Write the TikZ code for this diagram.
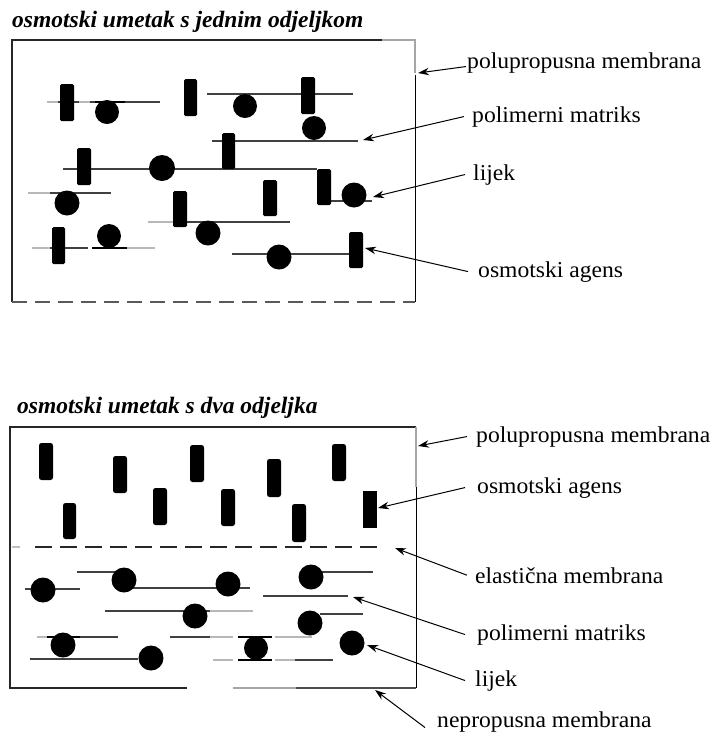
\documentclass[tikz,border=0pt]{standalone}
\usepackage{fontspec}
\setmainfont{Liberation Serif}
\newfontfamily\lblfont[FakeStretch=1.04]{Liberation Serif}
\newfontfamily\ttlfont{Liberation Serif}
\usetikzlibrary{arrows.meta}
\tikzset{
  mat/.style={black!75, line width=1.3pt},
  fade/.style={black!28, line width=1.6pt},
  drugcap/.style={black, line width=2.2pt},
  agent/.style={fill=black, rounded corners=1.5pt},
  drug/.style={fill=black},
  lbl/.style={font=\lblfont\fontsize{22.7}{24}\selectfont, anchor=base west, inner sep=0pt},
  ttl/.style={font=\ttlfont\bfseries\itshape\fontsize{23.5}{25}\selectfont, anchor=base west, inner sep=0pt},
  arr/.style={-{Stealth[length=11pt,width=7.5pt]}, line width=1pt},
  boxedge/.style={black!85, line width=1.3pt},
  gedge/.style={black!35, line width=1.6pt},
}
\begin{document}
\begin{tikzpicture}[x=1pt,y=-1pt]
\useasboundingbox (0,0) rectangle (711,732);

% ===== Top diagram =====
\node[ttl] (t1) at (12,27) {osmotski umetak s jednim odjeljkom};
\draw[boxedge] (12,302) -- (12,40) -- (382,40);
\draw[gedge] (382,40) -- (415,40) -- (415,73);
\draw[black, line width=1pt] (415,75) -- (415,302);
\draw[black!65, line width=1.6pt, dash pattern=on 15pt off 8pt] (12,302) -- (415,302);

% matrix lines
\draw[fade] (47,102) -- (58,102);
\draw[mat] (58,102) -- (160,102);
\draw[fade] (79,102) -- (90,102);
\draw[mat] (207,94) -- (353,94);
\draw[mat] (212,141) -- (358,141);
\draw[mat] (63,169) -- (317,169);
\draw[mat] (331,201) -- (372,201);
\draw[fade] (28,193) -- (50,193);
\draw[mat] (50,193) -- (111,193);
\draw[fade] (148,222) -- (173,222);
\draw[mat] (173,222) -- (290,222);
\draw[fade] (32,248) -- (50,248);
\draw[mat] (50,248) -- (88,248);
\draw[fade] (127,248) -- (155,248);
\draw[mat] (232,254) -- (350,254);

% osmotic agents
\foreach \a/\b/\c/\d in {60/84/74/121, 184/79/197/116, 301/77/315/114, 222/133/235/169,
  77/148/91/185, 317/169/331/205, 263/180/277/216, 173/191/187/227, 52/227/65/264, 349/232/363/268}
  \fill[agent] (\a,\b) rectangle (\c,\d);

% drug particles
\foreach \x/\y/\r in {107/112/12, 245/106/12, 314/128/12, 162/168/13, 354/195/12.5,
  67/203/12.5, 208/233/12.5, 109/236/12, 279/257/12.5}
  \fill[drug] (\x,\y) circle[radius=\r pt];
\draw[drugcap] (95,102) -- (125,102);
\draw[drugcap] (92,248) -- (127,248);

% labels
\node[lbl] (a1) at (467,68) {polupropusna membrana};
\node[lbl] (a2) at (472,122) {polimerni matriks};
\node[lbl] (a3) at (473,180) {lijek};
\node[lbl] (a4) at (478,277) {osmotski agens};
\coordinate (p1) at (418,73);
\coordinate (p2) at (363,140);
\coordinate (p3) at (373,197);
\coordinate (p4) at (365,248);
\draw[arr] ([xshift=-1pt,yshift=-4pt]a1.west) -- (p1);
\draw[arr] ([xshift=-8pt]a2.west) -- (p2);
\draw[arr] ([xshift=-8pt]a3.west) -- (p3);
\draw[arr] ([xshift=-10pt]a4.west) -- (p4);

% ===== Bottom diagram =====
\node[ttl] (t2) at (17,413) {osmotski umetak s dva odjeljka};
\draw[boxedge] (187,688) -- (10,688) -- (10,427) -- (416,427);
\draw[gedge] (416,427) -- (416,487);
\draw[black, line width=1pt] (416,487) -- (416,688);
\draw[gedge] (233,688) -- (296,688);
\draw[black!70, line width=1.3pt] (296,688) -- (416,688);

% osmotic agents
\foreach \a/\b/\c/\d in {39/443/53/480, 63/503/76/539, 113/456/127/493, 153/488/167/525,
  190/445/204/482, 221/489/235/526, 267/459/281/497, 292/504/306/542, 332/444/346/481}
  \fill[agent, rounded corners=2.5pt] (\a,\b) rectangle (\c,\d);
\fill[black] (363,491) rectangle (377,528);

% elastic membrane
\draw[black!25, line width=1.2pt] (12,547) -- (20,547);
\draw[black!85, line width=1.5pt, dash pattern=on 17pt off 8pt] (35,547) -- (378,547);

% matrix lines
\draw[mat] (25,589) -- (80,589);
\draw[mat] (77,572) -- (125,572);
\draw[mat] (130,588) -- (250,588);
\draw[mat] (320,572) -- (373,572);
\draw[mat] (263,596) -- (348,596);
\draw[mat] (105,611) -- (210,611);
\draw[fade] (210,611) -- (253,611);
\draw[mat] (320,614) -- (363,614);
\draw[fade] (37,637) -- (47,637);
\draw[mat] (47,637) -- (118,637);
\draw[mat] (30,659) -- (138,659);
\draw[mat] (170,637) -- (210,637);
\draw[fade] (210,637) -- (233,637);
\draw[fade] (275,637) -- (312,637);
\draw[fade] (213,660) -- (233,660);
\draw[fade] (275,660) -- (295,660);
\draw[mat] (295,660) -- (333,660);

% drug particles
\foreach \x/\y/\r in {43/590/12.5, 124/580/12.5, 228/584/12.5, 311/577/12.5, 195/616/12.5,
  310/623/12.5, 352/643/12.5, 63/645/12.5, 151/658/12.5, 256/648/12}
  \fill[drug] (\x,\y) circle[radius=\r pt];
\draw[drugcap] (47,637) -- (80,637);
\draw[drugcap] (238,637) -- (272,637);
\draw[drugcap] (238,660) -- (272,660);

% labels
\node[lbl] (b1) at (476,442) {polupropusna membrana};
\node[lbl] (b2) at (477,493) {osmotski agens};
\node[lbl] (b3) at (475,583) {elastična membrana};
\node[lbl] (b4) at (477,640) {polimerni matriks};
\node[lbl] (b5) at (475,686) {lijek};
\node[lbl] (b6) at (437,727) {nepropusna membrana};
\coordinate (q1) at (418,446);
\coordinate (q2) at (378,508);
\coordinate (q3) at (395,548);
\coordinate (q4) at (353,597);
\coordinate (q5) at (367,645);
\coordinate (q6) at (375,690);
\draw[arr] ([xshift=-9pt]b1.west) -- (q1);
\draw[arr] ([xshift=-12pt]b2.west) -- (q2);
\draw[arr] ([xshift=-8pt]b3.west) -- (q3);
\draw[arr] ([xshift=-12pt]b4.west) -- (q4);
\draw[arr] ([xshift=-10pt]b5.west) -- (q5);
\draw[arr] ([xshift=-12pt,yshift=-6pt]b6.west) -- (q6);
\end{tikzpicture}
\end{document}
